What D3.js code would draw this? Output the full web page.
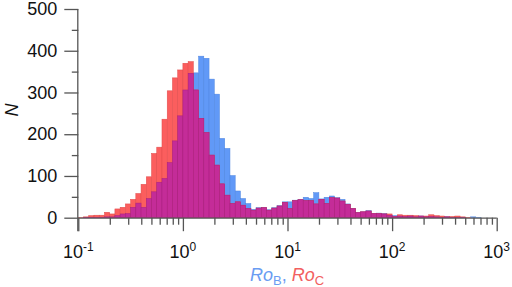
<!DOCTYPE html>
<html lang="en">
<head>
<script src="https://d3js.org/d3.v7.min.js"></script>
<style>
  body { margin: 0; background: #fff; }
  text { font-family: "Liberation Sans", Arial, sans-serif; }
</style>
</head>
<body>
<div id="chart"></div>
<script>
// histogram bins: log10 spacing, 20 bins per decade starting at 10^-1
const binStartLog = -1,
    binStepLog = 0.05;

// counts per bin (Ro_B in blue, Ro_C in red)
const roB = [0, 1, 1, 1, 1, 2, 2, 5, 9, 10,
    25, 35, 25, 46, 62, 85, 94, 132, 184, 244,
    306, 346, 347, 387, 382, 332, 296, 190, 166, 101,
    64, 46, 34, 20, 24, 25, 19, 24, 29, 38,
    38, 42, 44, 49, 46, 60, 45, 49, 52, 48,
    44, 33, 22, 13, 14, 17, 10, 11, 10, 6,
    5, 4, 3, 4, 2, 4, 2, 3, 2, 1,
    2, 1, 1, 1, 0, 2, 1];
const roC = [1, 2, 5, 6, 6, 13, 9, 21, 25, 33,
    44, 58, 80, 98, 154, 169, 236, 304, 335, 354,
    370, 374, 306, 238, 204, 150, 126, 81, 54, 34,
    38, 30, 22, 18, 23, 24, 18, 23, 28, 37,
    22, 41, 43, 41, 41, 33, 44, 34, 48, 47,
    40, 32, 22, 12, 14, 16, 10, 10, 9, 9,
    3, 7, 6, 6, 5, 4, 4, 7, 5, 4,
    2, 3, 4, 2, 1, 0, 0];

const yTicks = [0, 100, 200, 300, 400, 500];
const xDecades = [-1, 0, 1, 2, 3];

var width = 512,
    height = 287;

var x = d3.scaleLog().domain([0.1, 1000]).range([78.3, 496.7]);
var y = d3.scaleLinear().domain([0, 500]).range([217.7, 9]);

var svg = d3.select("#chart")
    .append("svg")
    .attr("width", width)
    .attr("height", height);

var bins = roB.map(function(b, i) {
    return {
        x0: Math.pow(10, binStartLog + binStepLog * i),
        x1: Math.pow(10, binStartLog + binStepLog * (i + 1)),
        b: b,
        c: roC[i],
        m: Math.min(b, roC[i])
    };
});

function drawBars(key, fill, stroke) {
    svg.append("g")
        .selectAll("rect")
        .data(bins.filter(function(d) { return d[key] > 0; }))
        .enter()
        .append("rect")
        .attr("x", function(d) { return x(d.x0); })
        .attr("width", function(d) { return x(d.x1) - x(d.x0); })
        .attr("y", function(d) { return y(d[key]); })
        .attr("height", function(d) { return y(0) - y(d[key]); })
        .attr("fill", fill)
        .attr("stroke", stroke)
        .attr("stroke-width", 0.5);
}

drawBars("b", "#6199f7", "#4f85e0");
drawBars("c", "#fb5e5e", "#e04a4a");
drawBars("m", "#c42c98", "#a82080");

// axes
var axisColor = "#555";

// x axis with log minor ticks
var xAxis = d3.axisBottom(x)
    .tickValues(xDecades.map(function(e) { return Math.pow(10, e); }))
    .tickSize(13.5)
    .tickFormat("");
var minor = [];
xDecades.slice(0, -1).forEach(function(e) {
    for (var k = 2; k <= 9; k++) minor.push(k * Math.pow(10, e));
});
var xMinor = d3.axisBottom(x).tickValues(minor).tickSize(7).tickFormat("");

var gx = svg.append("g").attr("transform", "translate(0," + y(0) + ")").call(xAxis);
var gxm = svg.append("g").attr("transform", "translate(0," + y(0) + ")").call(xMinor);
gxm.select(".domain").remove();
gx.select(".domain").attr("d", "M" + x(0.1) + ",0.5H" + x(1000));

// x tick labels 10^n
xDecades.forEach(function(e) {
    var t = svg.append("text")
        .attr("x", x(Math.pow(10, e)))
        .attr("y", 258)
        .attr("text-anchor", "middle")
        .attr("font-size", 18)
        .attr("fill", "#111");
    t.append("tspan").text("10");
    t.append("tspan").attr("dy", -7).attr("font-size", 12).text(e);
});

// y axis
var yAxis = d3.axisLeft(y).tickValues(yTicks).tickSize(14).tickPadding(7);
var yMinor = d3.axisLeft(y).tickValues([50, 150, 250, 350, 450]).tickSize(6.5).tickFormat("");
var gy = svg.append("g").attr("transform", "translate(" + x(0.1) + ",0)").call(yAxis);
var gym = svg.append("g").attr("transform", "translate(" + x(0.1) + ",0)").call(yMinor);
gym.select(".domain").remove();
gy.select(".domain").attr("d", "M-0.5," + y(500) + "V" + (y(0) + 13.5));
gy.selectAll("text")
    .attr("font-size", 18)
    .attr("font-family", "Liberation Sans, Arial, sans-serif")
    .attr("fill", "#111");

svg.selectAll(".tick line, .domain").attr("stroke", axisColor).attr("stroke-width", 1.3);

// axis titles
svg.append("text")
    .attr("transform", "translate(18,110) rotate(-90)")
    .attr("text-anchor", "middle")
    .attr("font-size", 18)
    .attr("font-style", "italic")
    .attr("fill", "#111")
    .text("N");

var xl = svg.append("text")
    .attr("x", 287)
    .attr("y", 281)
    .attr("text-anchor", "middle")
    .attr("font-size", 18);
xl.append("tspan").attr("fill", "#6a9cf2").attr("font-style", "italic").text("Ro");
xl.append("tspan").attr("fill", "#6a9cf2").attr("font-size", 13).attr("dy", 4).text("B");
xl.append("tspan").attr("fill", "#6a9cf2").attr("dy", -4).text(", ");
xl.append("tspan").attr("fill", "#f26060").attr("font-style", "italic").text("Ro");
xl.append("tspan").attr("fill", "#f26060").attr("font-size", 13).attr("dy", 4).text("C");
</script>
</body>
</html>
